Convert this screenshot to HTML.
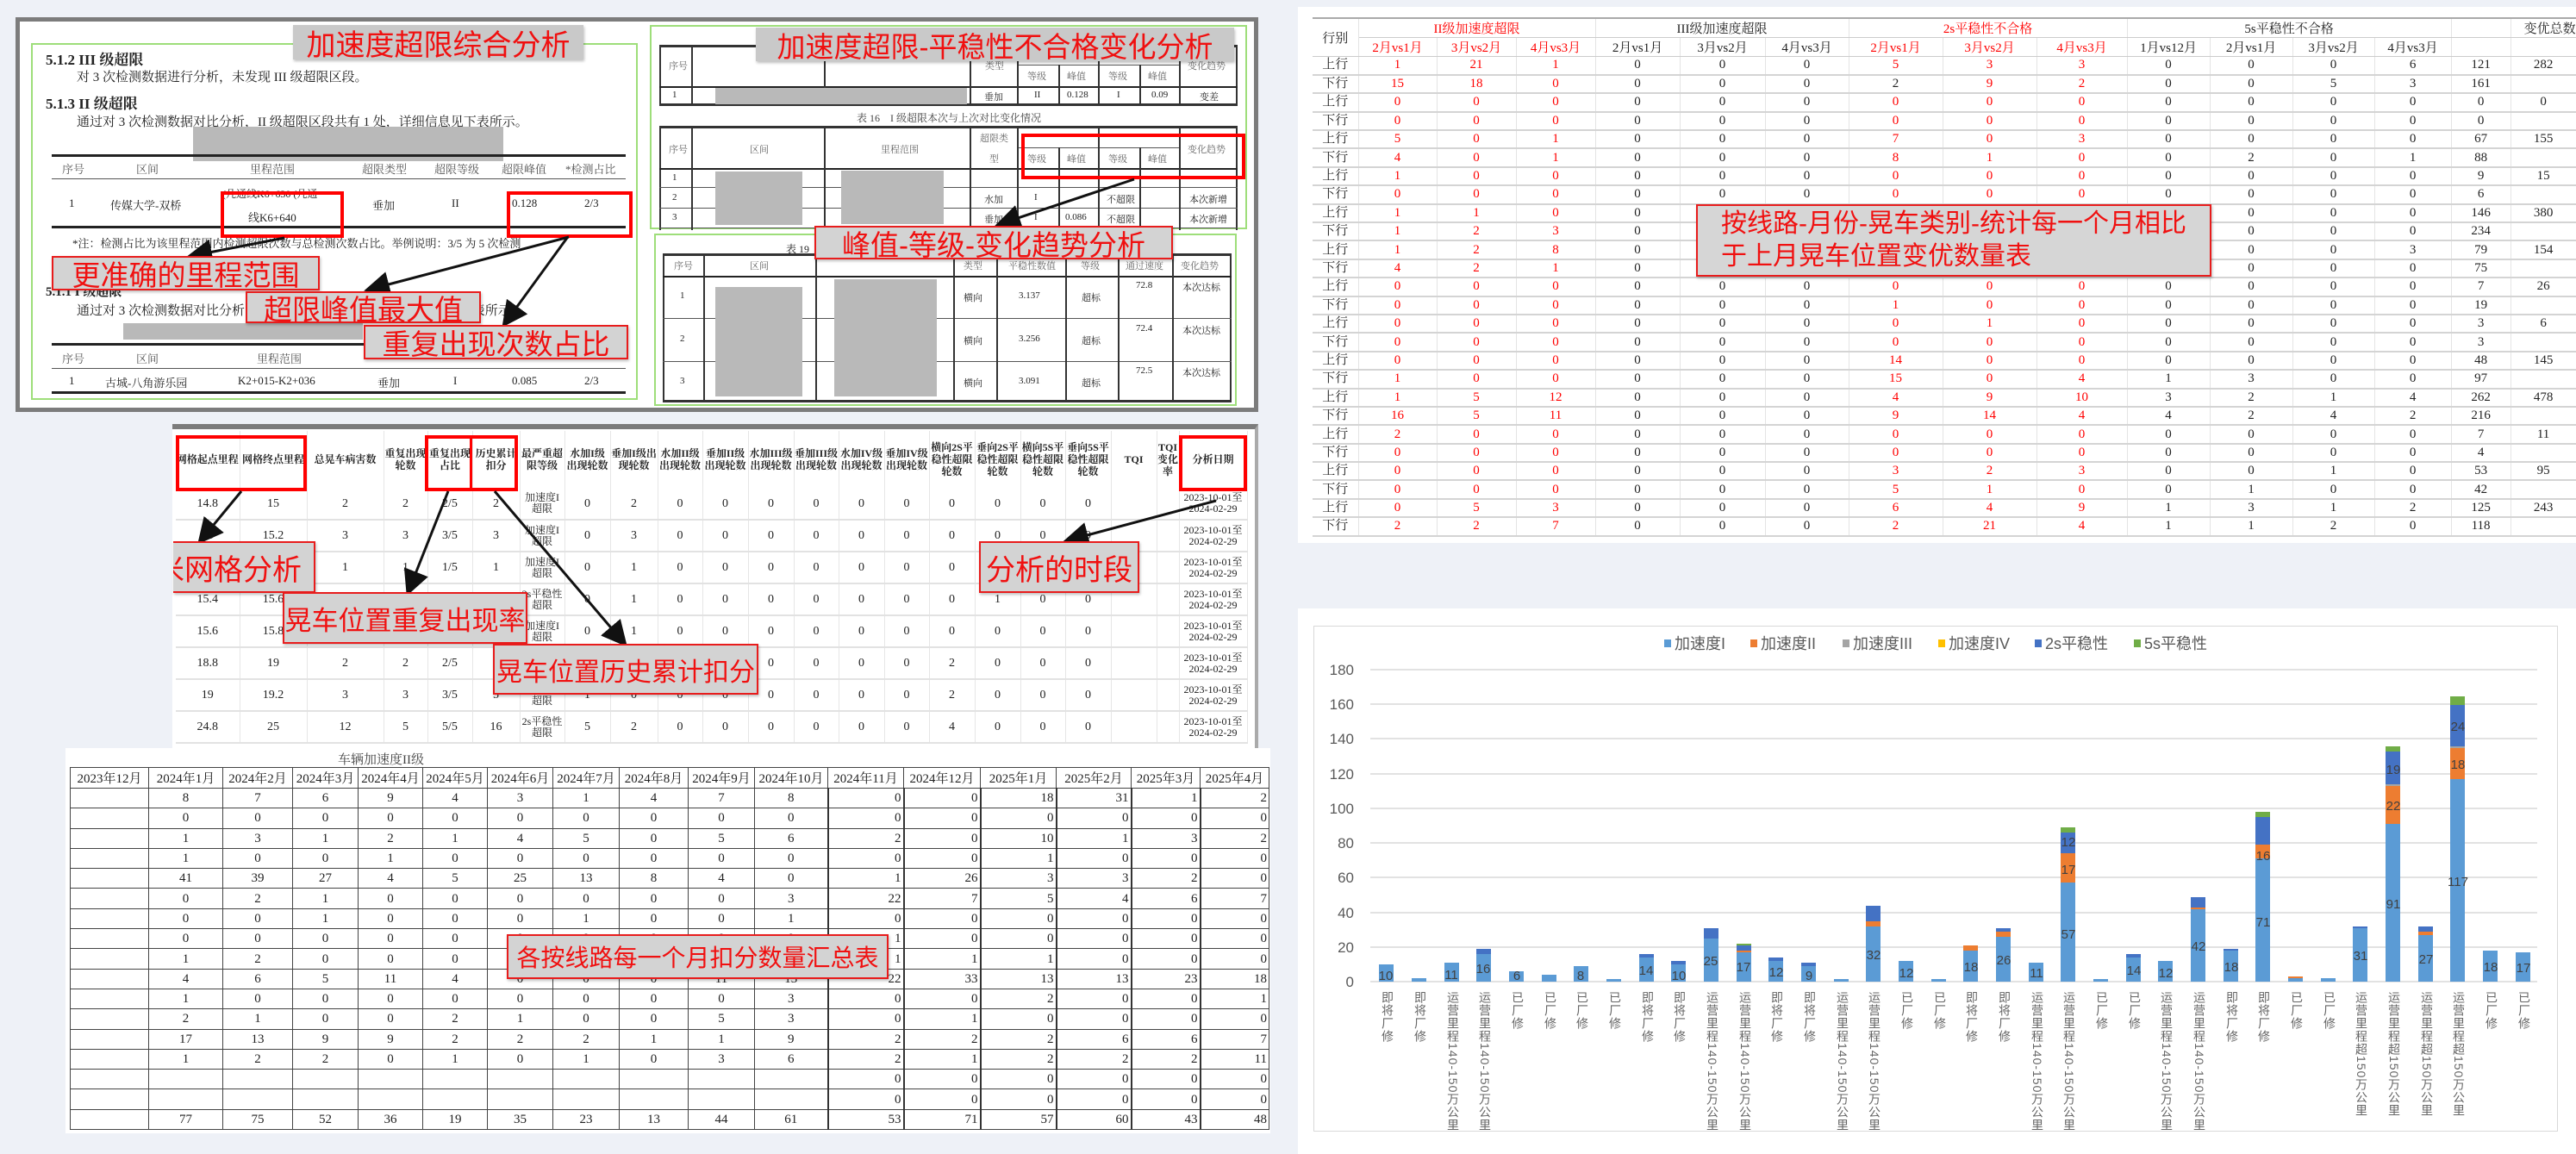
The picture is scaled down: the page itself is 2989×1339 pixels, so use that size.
<!DOCTYPE html>
<html><head><meta charset="utf-8">
<style>
*{margin:0;padding:0;box-sizing:border-box}
body{width:2989px;height:1339px;background:#eef1f7;position:relative;overflow:hidden;font-family:"Liberation Serif","Noto Serif CJK SC",serif;color:#222}
.a{position:absolute}
.co{position:absolute;background:#d3d3d3;border:2px solid #e81c1c;color:#f01010;font-family:"Liberation Sans","Noto Sans CJK SC",sans-serif;white-space:nowrap;display:flex;align-items:center;justify-content:center;box-shadow:1px 2px 3px rgba(0,0,0,.25)}
.rb{position:absolute;border:4px solid #f00}
.t{position:absolute;font-size:14px;white-space:nowrap}
.g{position:absolute;background:#b9b9b9}
.hl{position:absolute;height:2px;background:#222}
.vl{position:absolute;width:1.5px;background:#333}
table{border-collapse:collapse;position:absolute;table-layout:fixed}
.rt td{height:21.4px;border-bottom:2px solid #d4d4d4;border-right:1px solid #e4e4e4;text-align:center;font-size:15px;padding:0;line-height:19px}
.rt td.r{color:#f00}
.rt th{font-weight:normal;font-size:15px;border-right:1px solid #e4e4e4;border-bottom:1px solid #ccc}
.mt td{height:23.3px;border:1px solid #444;border-top:none;text-align:center;font-size:15px;padding:0 2px;line-height:20px}
.mt td.q{text-align:right;border-left:2px solid #333}
.mt th{font-weight:normal;font-size:15px;border:1px solid #444;height:24px}
.gt td{height:37px;max-height:37px;border-bottom:2px solid #e2e2e2;border-right:1px solid #e6e6e6;text-align:center;font-size:14px;padding:0;line-height:13px;overflow:hidden}
.gt td.s{font-size:12px}
.gt th{font-size:12px;border-right:1px solid #e6e6e6;height:66px;line-height:14px;font-weight:bold;padding:0;overflow:hidden}
.lab{position:absolute;writing-mode:vertical-rl;font-size:14px;color:#666;font-family:"Liberation Sans","Noto Sans CJK SC",sans-serif;letter-spacing:1px;top:1150px}
</style></head><body>

<!-- LEFT TOP DOCUMENT PANEL -->
<div class="a" style="left:18px;top:20px;width:1442px;height:458px;background:#fff;border:5px solid #7c7c7c"></div>
<div class="a" style="left:36px;top:50px;width:704px;height:414px;border:2px solid #9ede7a"></div>
<div class="a" style="left:754px;top:29px;width:693px;height:237px;border:2px solid #9ede7a"></div>
<div class="a" style="left:759px;top:271px;width:676px;height:200px;border:2px solid #9ede7a"></div>

<div class="t" style="left:53px;top:55px;font-size:17px;font-weight:bold">5.1.2 III 级超限</div>
<div class="t" style="left:89px;top:78px;font-size:15px">对 3 次检测数据进行分析，未发现 III 级超限区段。</div>
<div class="t" style="left:53px;top:106px;font-size:17px;font-weight:bold">5.1.3 II 级超限</div>
<div class="t" style="left:89px;top:130px;font-size:15px">通过对 3 次检测数据对比分析，II 级超限区段共有 1 处，详细信息见下表所示。</div>
<div class="g" style="left:224px;top:147px;width:360px;height:40px"></div>
<div class="hl" style="left:60px;top:179px;width:666px;height:3px"></div>
<div class="t" style="left:72px;top:186px;font-size:13px;color:#555">序号</div>
<div class="t" style="left:158px;top:186px;font-size:13px;color:#555">区间</div>
<div class="t" style="left:290px;top:186px;font-size:13px;color:#555">里程范围</div>
<div class="t" style="left:420px;top:186px;font-size:13px;color:#555">超限类型</div>
<div class="t" style="left:504px;top:186px;font-size:13px;color:#555">超限等级</div>
<div class="t" style="left:582px;top:186px;font-size:13px;color:#555">超限峰值</div>
<div class="t" style="left:656px;top:186px;font-size:13px;color:#555">*检测占比</div>
<div class="hl" style="left:60px;top:207px;width:666px;height:1px;background:#555"></div>
<div class="t" style="left:80px;top:228px;font-size:13px">1</div>
<div class="t" style="left:128px;top:228px;font-size:13px">传媒大学-双桥</div>
<div class="t" style="left:258px;top:216px;font-size:12px">(几通线K6+630 (几通</div>
<div class="t" style="left:288px;top:242px;font-size:13px">线K6+640</div>
<div class="t" style="left:432px;top:228px;font-size:13px">垂加</div>
<div class="t" style="left:524px;top:228px;font-size:13px">II</div>
<div class="t" style="left:594px;top:228px;font-size:13px">0.128</div>
<div class="t" style="left:678px;top:228px;font-size:13px">2/3</div>
<div class="hl" style="left:60px;top:262px;width:666px;height:3px"></div>
<div class="t" style="left:84px;top:272px;font-size:13px">*注：检测占比为该里程范围内检测超限次数与总检测次数占比。举例说明：3/5 为 5 次检测</div>
<div class="t" style="left:53px;top:327px;font-size:15px;font-weight:bold">5.1.1 I 级超限</div>
<div class="t" style="left:89px;top:349px;font-size:15px">通过对 3 次检测数据对比分析，I 级超限区段共有 1 处，详细信息见下表所示。</div>
<div class="g" style="left:143px;top:375px;width:278px;height:19px"></div>
<div class="hl" style="left:60px;top:398px;width:666px;height:3px"></div>
<div class="t" style="left:72px;top:406px;font-size:13px;color:#555">序号</div>
<div class="t" style="left:158px;top:406px;font-size:13px;color:#555">区间</div>
<div class="t" style="left:298px;top:406px;font-size:13px;color:#555">里程范围</div>
<div class="hl" style="left:60px;top:427px;width:666px;height:1px;background:#555"></div>
<div class="t" style="left:80px;top:434px;font-size:13px">1</div>
<div class="t" style="left:122px;top:434px;font-size:13px">古城-八角游乐园</div>
<div class="t" style="left:276px;top:434px;font-size:13px">K2+015-K2+036</div>
<div class="t" style="left:438px;top:434px;font-size:13px">垂加</div>
<div class="t" style="left:526px;top:434px;font-size:13px">I</div>
<div class="t" style="left:594px;top:434px;font-size:13px">0.085</div>
<div class="t" style="left:678px;top:434px;font-size:13px">2/3</div>
<div class="hl" style="left:60px;top:454px;width:666px;height:3px"></div>

<!-- right doc tables -->
<div class="a" style="left:765px;top:52px;width:671px;height:71px;border:2px solid #333;border-top-width:3px;border-bottom-width:3px"></div>
<div class="hl" style="left:765px;top:100px;width:671px;height:1.5px"></div>
<div class="hl" style="left:1180px;top:75px;width:188px;height:1px;background:#555"></div>
<div class="vl" style="left:802px;top:52px;height:71px"></div><div class="vl" style="left:956px;top:52px;height:71px"></div><div class="vl" style="left:1125px;top:52px;height:71px"></div><div class="vl" style="left:1180px;top:52px;height:71px"></div><div class="vl" style="left:1228px;top:75px;height:48px"></div><div class="vl" style="left:1274px;top:52px;height:71px"></div><div class="vl" style="left:1322px;top:75px;height:48px"></div><div class="vl" style="left:1368px;top:52px;height:71px"></div>
<div class="g" style="left:830px;top:102px;width:292px;height:19px"></div>
<div class="t" style="left:776px;top:68px;font-size:11px;color:#666">序号</div>
<div class="t" style="left:1143px;top:68px;font-size:11px;color:#666">类型</div>
<div class="t" style="left:1378px;top:68px;font-size:11px;color:#666">变化趋势</div>
<div class="t" style="left:1192px;top:80px;font-size:11px;color:#666">等级</div><div class="t" style="left:1238px;top:80px;font-size:11px;color:#666">峰值</div><div class="t" style="left:1286px;top:80px;font-size:11px;color:#666">等级</div><div class="t" style="left:1332px;top:80px;font-size:11px;color:#666">峰值</div>
<div class="t" style="left:780px;top:104px;font-size:11px">1</div><div class="t" style="left:1142px;top:104px;font-size:11px">垂加</div><div class="t" style="left:1200px;top:104px;font-size:11px">II</div><div class="t" style="left:1238px;top:104px;font-size:11px">0.128</div><div class="t" style="left:1296px;top:104px;font-size:11px">I</div><div class="t" style="left:1336px;top:104px;font-size:11px">0.09</div><div class="t" style="left:1392px;top:104px;font-size:11px">变差</div>
<div class="t" style="left:994px;top:128px;font-size:12px;color:#444">表 16　I 级超限本次与上次对比变化情况</div>

<div class="a" style="left:765px;top:146px;width:671px;height:121px;border:2px solid #333;border-top-width:3px;border-bottom:none"></div>
<div class="hl" style="left:765px;top:195px;width:671px;height:1.5px"></div>
<div class="hl" style="left:765px;top:217px;width:671px;height:1px;background:#555"></div>
<div class="hl" style="left:765px;top:241px;width:671px;height:1px;background:#555"></div>
<div class="hl" style="left:765px;top:264px;width:671px;height:1px;background:#555"></div>
<div class="hl" style="left:1180px;top:171px;width:188px;height:1px;background:#555"></div>
<div class="vl" style="left:802px;top:146px;height:121px"></div><div class="vl" style="left:956px;top:146px;height:121px"></div><div class="vl" style="left:1125px;top:146px;height:121px"></div><div class="vl" style="left:1180px;top:146px;height:121px"></div><div class="vl" style="left:1228px;top:171px;height:96px"></div><div class="vl" style="left:1274px;top:146px;height:121px"></div><div class="vl" style="left:1322px;top:171px;height:96px"></div><div class="vl" style="left:1368px;top:146px;height:121px"></div>
<div class="g" style="left:830px;top:199px;width:101px;height:62px"></div>
<div class="g" style="left:976px;top:198px;width:119px;height:62px"></div>
<div class="t" style="left:776px;top:165px;font-size:11px;color:#666">序号</div><div class="t" style="left:870px;top:165px;font-size:11px;color:#666">区间</div><div class="t" style="left:1022px;top:165px;font-size:11px;color:#666">里程范围</div><div class="t" style="left:1137px;top:152px;font-size:11px;color:#666">超限类</div><div class="t" style="left:1148px;top:176px;font-size:11px;color:#666">型</div><div class="t" style="left:1378px;top:165px;font-size:11px;color:#666">变化趋势</div>
<div class="t" style="left:1192px;top:176px;font-size:11px;color:#666">等级</div><div class="t" style="left:1238px;top:176px;font-size:11px;color:#666">峰值</div><div class="t" style="left:1286px;top:176px;font-size:11px;color:#666">等级</div><div class="t" style="left:1332px;top:176px;font-size:11px;color:#666">峰值</div>
<div class="t" style="left:780px;top:200px;font-size:11px">1</div><div class="t" style="left:780px;top:223px;font-size:11px">2</div><div class="t" style="left:780px;top:246px;font-size:11px">3</div>
<div class="t" style="left:1142px;top:223px;font-size:11px">水加</div><div class="t" style="left:1142px;top:246px;font-size:11px">垂加</div><div class="t" style="left:1200px;top:223px;font-size:11px">I</div><div class="t" style="left:1200px;top:246px;font-size:11px">I</div><div class="t" style="left:1236px;top:246px;font-size:11px">0.086</div><div class="t" style="left:1284px;top:223px;font-size:11px">不超限</div><div class="t" style="left:1284px;top:246px;font-size:11px">不超限</div><div class="t" style="left:1380px;top:223px;font-size:11px">本次新增</div><div class="t" style="left:1380px;top:246px;font-size:11px">本次新增</div>

<div class="a" style="left:769px;top:294px;width:660px;height:173px;border:2px solid #333;border-top-width:3px;border-bottom-width:3px"></div>
<div class="hl" style="left:769px;top:320px;width:660px;height:1.5px"></div>
<div class="hl" style="left:769px;top:369px;width:660px;height:1px;background:#555"></div>
<div class="hl" style="left:769px;top:419px;width:660px;height:1px;background:#555"></div>
<div class="vl" style="left:816px;top:294px;height:173px"></div><div class="vl" style="left:946px;top:294px;height:173px"></div><div class="vl" style="left:1106px;top:294px;height:173px"></div><div class="vl" style="left:1156px;top:294px;height:173px"></div><div class="vl" style="left:1236px;top:294px;height:173px"></div><div class="vl" style="left:1297px;top:294px;height:173px"></div><div class="vl" style="left:1360px;top:294px;height:173px"></div>
<div class="g" style="left:830px;top:333px;width:101px;height:127px"></div>
<div class="g" style="left:968px;top:324px;width:119px;height:136px"></div>
<div class="t" style="left:782px;top:300px;font-size:11px;color:#666">序号</div><div class="t" style="left:870px;top:300px;font-size:11px;color:#666">区间</div><div class="t" style="left:1118px;top:300px;font-size:11px;color:#666">类型</div><div class="t" style="left:1170px;top:300px;font-size:11px;color:#666">平稳性数值</div><div class="t" style="left:1254px;top:300px;font-size:11px;color:#666">等级</div><div class="t" style="left:1306px;top:300px;font-size:11px;color:#666">通过速度</div><div class="t" style="left:1370px;top:300px;font-size:11px;color:#666">变化趋势</div>
<div class="t" style="left:789px;top:337px;font-size:11px">1</div><div class="t" style="left:789px;top:387px;font-size:11px">2</div><div class="t" style="left:789px;top:436px;font-size:11px">3</div>
<div class="t" style="left:1118px;top:337px;font-size:11px">横向</div><div class="t" style="left:1118px;top:387px;font-size:11px">横向</div><div class="t" style="left:1118px;top:436px;font-size:11px">横向</div>
<div class="t" style="left:1182px;top:337px;font-size:11px">3.137</div><div class="t" style="left:1182px;top:387px;font-size:11px">3.256</div><div class="t" style="left:1182px;top:436px;font-size:11px">3.091</div>
<div class="t" style="left:1255px;top:337px;font-size:11px">超标</div><div class="t" style="left:1255px;top:387px;font-size:11px">超标</div><div class="t" style="left:1255px;top:436px;font-size:11px">超标</div>
<div class="t" style="left:1318px;top:325px;font-size:11px">72.8</div><div class="t" style="left:1318px;top:375px;font-size:11px">72.4</div><div class="t" style="left:1318px;top:424px;font-size:11px">72.5</div>
<div class="t" style="left:1372px;top:325px;font-size:11px">本次达标</div><div class="t" style="left:1372px;top:375px;font-size:11px">本次达标</div><div class="t" style="left:1372px;top:424px;font-size:11px">本次达标</div>
<div class="t" style="left:912px;top:280px;font-size:12px">表 19</div>

<!-- GRID PANEL -->
<div class="a" style="left:200px;top:492px;width:1260px;height:378px;background:#fff;border-top:6px solid #7c7c7c;border-right:4px solid #aaa;overflow:hidden">
<table class="gt" style="left:4px;top:2px;width:1243px">
<colgroup><col style="width:74px"><col style="width:78px"><col style="width:89px"><col style="width:51px"><col style="width:52px"><col style="width:55px"><col style="width:52px"><col style="width:53px"><col style="width:55px"><col style="width:52px"><col style="width:53px"><col style="width:53px"><col style="width:52px"><col style="width:53px"><col style="width:52px"><col style="width:53px"><col style="width:53px"><col style="width:52px"><col style="width:53px"><col style="width:53px"><col style="width:26px"><col style="width:79px"></colgroup>
<tr><th>网格起点里程</th><th>网格终点里程</th><th>总晃车病害数</th><th>重复出现轮数</th><th>重复出现占比</th><th>历史累计扣分</th><th>最严重超限等级</th><th>水加I级出现轮数</th><th>垂加I级出现轮数</th><th>水加II级出现轮数</th><th>垂加II级出现轮数</th><th>水加III级出现轮数</th><th>垂加III级出现轮数</th><th>水加IV级出现轮数</th><th>垂加IV级出现轮数</th><th>横向2S平稳性超限轮数</th><th>垂向2S平稳性超限轮数</th><th>横向5S平稳性超限轮数</th><th>垂向5S平稳性超限轮数</th><th>TQI</th><th>TQI变化率</th><th>分析日期</th></tr>
<tr><td>14.8</td><td>15</td><td>2</td><td>2</td><td>2/5</td><td>2</td><td class="s">加速度I<br>超限</td><td>0</td><td>2</td><td>0</td><td>0</td><td>0</td><td>0</td><td>0</td><td>0</td><td>0</td><td>0</td><td>0</td><td>0</td><td></td><td></td><td class="s">2023-10-01至<br>2024-02-29</td></tr>
<tr><td>15</td><td>15.2</td><td>3</td><td>3</td><td>3/5</td><td>3</td><td class="s">加速度I<br>超限</td><td>0</td><td>3</td><td>0</td><td>0</td><td>0</td><td>0</td><td>0</td><td>0</td><td>0</td><td>0</td><td>0</td><td>0</td><td></td><td></td><td class="s">2023-10-01至<br>2024-02-29</td></tr>
<tr><td>15.2</td><td>15.4</td><td>1</td><td>1</td><td>1/5</td><td>1</td><td class="s">加速度I<br>超限</td><td>0</td><td>1</td><td>0</td><td>0</td><td>0</td><td>0</td><td>0</td><td>0</td><td>0</td><td>0</td><td>0</td><td>0</td><td></td><td></td><td class="s">2023-10-01至<br>2024-02-29</td></tr>
<tr><td>15.4</td><td>15.6</td><td>1</td><td>1</td><td>1/5</td><td>1</td><td class="s">2s平稳性<br>超限</td><td>0</td><td>1</td><td>0</td><td>0</td><td>0</td><td>0</td><td>0</td><td>0</td><td>0</td><td>1</td><td>0</td><td>0</td><td></td><td></td><td class="s">2023-10-01至<br>2024-02-29</td></tr>
<tr><td>15.6</td><td>15.8</td><td>1</td><td>1</td><td>1/5</td><td>1</td><td class="s">加速度I<br>超限</td><td>0</td><td>1</td><td>0</td><td>0</td><td>0</td><td>0</td><td>0</td><td>0</td><td>0</td><td>0</td><td>0</td><td>0</td><td></td><td></td><td class="s">2023-10-01至<br>2024-02-29</td></tr>
<tr><td>18.8</td><td>19</td><td>2</td><td>2</td><td>2/5</td><td>2</td><td class="s">2s平稳性<br>超限</td><td>0</td><td>0</td><td>0</td><td>0</td><td>0</td><td>0</td><td>0</td><td>0</td><td>2</td><td>0</td><td>0</td><td>0</td><td></td><td></td><td class="s">2023-10-01至<br>2024-02-29</td></tr>
<tr><td>19</td><td>19.2</td><td>3</td><td>3</td><td>3/5</td><td>5</td><td class="s">2s平稳性<br>超限</td><td>1</td><td>0</td><td>0</td><td>0</td><td>0</td><td>0</td><td>0</td><td>0</td><td>2</td><td>0</td><td>0</td><td>0</td><td></td><td></td><td class="s">2023-10-01至<br>2024-02-29</td></tr>
<tr><td>24.8</td><td>25</td><td>12</td><td>5</td><td>5/5</td><td>16</td><td class="s">2s平稳性<br>超限</td><td>5</td><td>2</td><td>0</td><td>0</td><td>0</td><td>0</td><td>0</td><td>0</td><td>4</td><td>0</td><td>0</td><td>0</td><td></td><td></td><td class="s">2023-10-01至<br>2024-02-29</td></tr>
</table>
</div>

<!-- MONTHLY TABLE -->
<div class="a" style="left:76px;top:868px;width:1398px;height:447px;background:#fff"></div>
<div class="t" style="left:392px;top:870px;font-size:15px;color:#444">车辆加速度II级</div>
<table class="mt" style="left:81px;top:890px;width:1391px">
<colgroup><col style="width:91px"><col style="width:86px"><col style="width:81px"><col style="width:76px"><col style="width:75px"><col style="width:75px"><col style="width:76px"><col style="width:77px"><col style="width:80px"><col style="width:77px"><col style="width:85px"><col style="width:88px"><col style="width:89px"><col style="width:88px"><col style="width:87px"><col style="width:80px"><col style="width:80px"></colgroup>
<tr><th>2023年12月</th><th>2024年1月</th><th>2024年2月</th><th>2024年3月</th><th>2024年4月</th><th>2024年5月</th><th>2024年6月</th><th>2024年7月</th><th>2024年8月</th><th>2024年9月</th><th>2024年10月</th><th>2024年11月</th><th>2024年12月</th><th>2025年1月</th><th>2025年2月</th><th>2025年3月</th><th>2025年4月</th></tr>
<tr><td></td><td>8</td><td>7</td><td>6</td><td>9</td><td>4</td><td>3</td><td>1</td><td>4</td><td>7</td><td>8</td><td class="q">0</td><td class="q">0</td><td class="q">18</td><td class="q">31</td><td class="q">1</td><td class="q">2</td></tr>
<tr><td></td><td>0</td><td>0</td><td>0</td><td>0</td><td>0</td><td>0</td><td>0</td><td>0</td><td>0</td><td>0</td><td class="q">0</td><td class="q">0</td><td class="q">0</td><td class="q">0</td><td class="q">0</td><td class="q">0</td></tr>
<tr><td></td><td>1</td><td>3</td><td>1</td><td>2</td><td>1</td><td>4</td><td>5</td><td>0</td><td>5</td><td>6</td><td class="q">2</td><td class="q">0</td><td class="q">10</td><td class="q">1</td><td class="q">3</td><td class="q">2</td></tr>
<tr><td></td><td>1</td><td>0</td><td>0</td><td>1</td><td>0</td><td>0</td><td>0</td><td>0</td><td>0</td><td>0</td><td class="q">0</td><td class="q">0</td><td class="q">1</td><td class="q">0</td><td class="q">0</td><td class="q">0</td></tr>
<tr><td></td><td>41</td><td>39</td><td>27</td><td>4</td><td>5</td><td>25</td><td>13</td><td>8</td><td>4</td><td>0</td><td class="q">1</td><td class="q">26</td><td class="q">3</td><td class="q">3</td><td class="q">2</td><td class="q">0</td></tr>
<tr><td></td><td>0</td><td>2</td><td>1</td><td>0</td><td>0</td><td>0</td><td>0</td><td>0</td><td>0</td><td>3</td><td class="q">22</td><td class="q">7</td><td class="q">5</td><td class="q">4</td><td class="q">6</td><td class="q">7</td></tr>
<tr><td></td><td>0</td><td>0</td><td>1</td><td>0</td><td>0</td><td>0</td><td>1</td><td>0</td><td>0</td><td>1</td><td class="q">0</td><td class="q">0</td><td class="q">0</td><td class="q">0</td><td class="q">0</td><td class="q">0</td></tr>
<tr><td></td><td>0</td><td>0</td><td>0</td><td>0</td><td>0</td><td>0</td><td>0</td><td>0</td><td>0</td><td>0</td><td class="q">1</td><td class="q">0</td><td class="q">0</td><td class="q">0</td><td class="q">0</td><td class="q">0</td></tr>
<tr><td></td><td>1</td><td>2</td><td>0</td><td>0</td><td>0</td><td>0</td><td>0</td><td>0</td><td>0</td><td>0</td><td class="q">1</td><td class="q">1</td><td class="q">1</td><td class="q">0</td><td class="q">0</td><td class="q">0</td></tr>
<tr><td></td><td>4</td><td>6</td><td>5</td><td>11</td><td>4</td><td>0</td><td>0</td><td>0</td><td>11</td><td>13</td><td class="q">22</td><td class="q">33</td><td class="q">13</td><td class="q">13</td><td class="q">23</td><td class="q">18</td></tr>
<tr><td></td><td>1</td><td>0</td><td>0</td><td>0</td><td>0</td><td>0</td><td>0</td><td>0</td><td>0</td><td>3</td><td class="q">0</td><td class="q">0</td><td class="q">2</td><td class="q">0</td><td class="q">0</td><td class="q">1</td></tr>
<tr><td></td><td>2</td><td>1</td><td>0</td><td>0</td><td>2</td><td>1</td><td>0</td><td>0</td><td>5</td><td>3</td><td class="q">0</td><td class="q">1</td><td class="q">0</td><td class="q">0</td><td class="q">0</td><td class="q">0</td></tr>
<tr><td></td><td>17</td><td>13</td><td>9</td><td>9</td><td>2</td><td>2</td><td>2</td><td>1</td><td>1</td><td>9</td><td class="q">2</td><td class="q">2</td><td class="q">2</td><td class="q">6</td><td class="q">6</td><td class="q">7</td></tr>
<tr><td></td><td>1</td><td>2</td><td>2</td><td>0</td><td>1</td><td>0</td><td>1</td><td>0</td><td>3</td><td>6</td><td class="q">2</td><td class="q">1</td><td class="q">2</td><td class="q">2</td><td class="q">2</td><td class="q">11</td></tr>
<tr><td></td><td></td><td></td><td></td><td></td><td></td><td></td><td></td><td></td><td></td><td></td><td class="q">0</td><td class="q">0</td><td class="q">0</td><td class="q">0</td><td class="q">0</td><td class="q">0</td></tr>
<tr><td></td><td></td><td></td><td></td><td></td><td></td><td></td><td></td><td></td><td></td><td></td><td class="q">0</td><td class="q">0</td><td class="q">0</td><td class="q">0</td><td class="q">0</td><td class="q">0</td></tr>
<tr><td></td><td>77</td><td>75</td><td>52</td><td>36</td><td>19</td><td>35</td><td>23</td><td>13</td><td>44</td><td>61</td><td class="q">53</td><td class="q">71</td><td class="q">57</td><td class="q">60</td><td class="q">43</td><td class="q">48</td></tr>
</table>

<!-- RIGHT TABLE -->
<div class="a" style="left:1506px;top:8px;width:1483px;height:622px;background:#fff"></div>
<table class="rt" style="left:1523px;top:20px;width:1466px;border-top:2px solid #aaa">
<colgroup><col style="width:53px"><col style="width:91px"><col style="width:92px"><col style="width:92px"><col style="width:98px"><col style="width:99px"><col style="width:97px"><col style="width:109px"><col style="width:109px"><col style="width:105px"><col style="width:96px"><col style="width:96px"><col style="width:95px"><col style="width:89px"><col style="width:69px"><col style="width:76px"></colgroup>
<tr style="height:22px"><th rowspan="2">行别</th><th colspan="3" style="color:#f00">II级加速度超限</th><th colspan="3">III级加速度超限</th><th colspan="3" style="color:#f00">2s平稳性不合格</th><th colspan="4">5s平稳性不合格</th><th></th><th style="text-align:right">变优总数</th></tr>
<tr style="height:21px"><th style="color:#f00">2月vs1月</th><th style="color:#f00">3月vs2月</th><th style="color:#f00">4月vs3月</th><th>2月vs1月</th><th>3月vs2月</th><th>4月vs3月</th><th style="color:#f00">2月vs1月</th><th style="color:#f00">3月vs2月</th><th style="color:#f00">4月vs3月</th><th>1月vs12月</th><th>2月vs1月</th><th>3月vs2月</th><th>4月vs3月</th><th></th><th></th></tr>
<tr><td>上行</td><td class="r">1</td><td class="r">21</td><td class="r">1</td><td>0</td><td>0</td><td>0</td><td class="r">5</td><td class="r">3</td><td class="r">3</td><td>0</td><td>0</td><td>0</td><td>6</td><td>121</td><td>282</td></tr>
<tr><td>下行</td><td class="r">15</td><td class="r">18</td><td class="r">0</td><td>0</td><td>0</td><td>0</td><td>2</td><td class="r">9</td><td class="r">2</td><td>0</td><td>0</td><td>5</td><td>3</td><td>161</td><td></td></tr>
<tr><td>上行</td><td class="r">0</td><td class="r">0</td><td class="r">0</td><td>0</td><td>0</td><td>0</td><td class="r">0</td><td class="r">0</td><td class="r">0</td><td>0</td><td>0</td><td>0</td><td>0</td><td>0</td><td>0</td></tr>
<tr><td>下行</td><td class="r">0</td><td class="r">0</td><td class="r">0</td><td>0</td><td>0</td><td>0</td><td class="r">0</td><td class="r">0</td><td class="r">0</td><td>0</td><td>0</td><td>0</td><td>0</td><td>0</td><td></td></tr>
<tr><td>上行</td><td class="r">5</td><td class="r">0</td><td class="r">1</td><td>0</td><td>0</td><td>0</td><td class="r">7</td><td class="r">0</td><td class="r">3</td><td>0</td><td>0</td><td>0</td><td>0</td><td>67</td><td>155</td></tr>
<tr><td>下行</td><td class="r">4</td><td class="r">0</td><td class="r">1</td><td>0</td><td>0</td><td>0</td><td class="r">8</td><td class="r">1</td><td class="r">0</td><td>0</td><td>2</td><td>0</td><td>1</td><td>88</td><td></td></tr>
<tr><td>上行</td><td class="r">1</td><td class="r">0</td><td class="r">0</td><td>0</td><td>0</td><td>0</td><td class="r">0</td><td class="r">0</td><td class="r">0</td><td>0</td><td>0</td><td>0</td><td>0</td><td>9</td><td>15</td></tr>
<tr><td>下行</td><td class="r">0</td><td class="r">0</td><td class="r">0</td><td>0</td><td>0</td><td>0</td><td class="r">0</td><td class="r">0</td><td class="r">0</td><td>0</td><td>0</td><td>0</td><td>0</td><td>6</td><td></td></tr>
<tr><td>上行</td><td class="r">1</td><td class="r">1</td><td class="r">0</td><td>0</td><td>0</td><td>0</td><td class="r">0</td><td class="r">0</td><td class="r">0</td><td>0</td><td>0</td><td>0</td><td>0</td><td>146</td><td>380</td></tr>
<tr><td>下行</td><td class="r">1</td><td class="r">2</td><td class="r">3</td><td>0</td><td>0</td><td>0</td><td class="r">0</td><td class="r">0</td><td class="r">0</td><td>0</td><td>0</td><td>0</td><td>0</td><td>234</td><td></td></tr>
<tr><td>上行</td><td class="r">1</td><td class="r">2</td><td class="r">8</td><td>0</td><td>0</td><td>0</td><td class="r">0</td><td class="r">0</td><td class="r">0</td><td>0</td><td>0</td><td>0</td><td>3</td><td>79</td><td>154</td></tr>
<tr><td>下行</td><td class="r">4</td><td class="r">2</td><td class="r">1</td><td>0</td><td>0</td><td>0</td><td class="r">0</td><td class="r">0</td><td class="r">0</td><td>0</td><td>0</td><td>0</td><td>0</td><td>75</td><td></td></tr>
<tr><td>上行</td><td class="r">0</td><td class="r">0</td><td class="r">0</td><td>0</td><td>0</td><td>0</td><td class="r">0</td><td class="r">0</td><td class="r">0</td><td>0</td><td>0</td><td>0</td><td>0</td><td>7</td><td>26</td></tr>
<tr><td>下行</td><td class="r">0</td><td class="r">0</td><td class="r">0</td><td>0</td><td>0</td><td>0</td><td class="r">1</td><td class="r">0</td><td class="r">0</td><td>0</td><td>0</td><td>0</td><td>0</td><td>19</td><td></td></tr>
<tr><td>上行</td><td class="r">0</td><td class="r">0</td><td class="r">0</td><td>0</td><td>0</td><td>0</td><td class="r">0</td><td class="r">1</td><td class="r">0</td><td>0</td><td>0</td><td>0</td><td>0</td><td>3</td><td>6</td></tr>
<tr><td>下行</td><td class="r">0</td><td class="r">0</td><td class="r">0</td><td>0</td><td>0</td><td>0</td><td class="r">0</td><td class="r">0</td><td class="r">0</td><td>0</td><td>0</td><td>0</td><td>0</td><td>3</td><td></td></tr>
<tr><td>上行</td><td class="r">0</td><td class="r">0</td><td class="r">0</td><td>0</td><td>0</td><td>0</td><td class="r">14</td><td class="r">0</td><td class="r">0</td><td>0</td><td>0</td><td>0</td><td>0</td><td>48</td><td>145</td></tr>
<tr><td>下行</td><td class="r">1</td><td class="r">0</td><td class="r">0</td><td>0</td><td>0</td><td>0</td><td class="r">15</td><td class="r">0</td><td class="r">4</td><td>1</td><td>3</td><td>0</td><td>0</td><td>97</td><td></td></tr>
<tr><td>上行</td><td class="r">1</td><td class="r">5</td><td class="r">12</td><td>0</td><td>0</td><td>0</td><td class="r">4</td><td class="r">9</td><td class="r">10</td><td>3</td><td>2</td><td>1</td><td>4</td><td>262</td><td>478</td></tr>
<tr><td>下行</td><td class="r">16</td><td class="r">5</td><td class="r">11</td><td>0</td><td>0</td><td>0</td><td class="r">9</td><td class="r">14</td><td class="r">4</td><td>4</td><td>2</td><td>4</td><td>2</td><td>216</td><td></td></tr>
<tr><td>上行</td><td class="r">2</td><td class="r">0</td><td class="r">0</td><td>0</td><td>0</td><td>0</td><td class="r">0</td><td class="r">0</td><td class="r">0</td><td>0</td><td>0</td><td>0</td><td>0</td><td>7</td><td>11</td></tr>
<tr><td>下行</td><td class="r">0</td><td class="r">0</td><td class="r">0</td><td>0</td><td>0</td><td>0</td><td class="r">0</td><td class="r">0</td><td class="r">0</td><td>0</td><td>0</td><td>0</td><td>0</td><td>4</td><td></td></tr>
<tr><td>上行</td><td class="r">0</td><td class="r">0</td><td class="r">0</td><td>0</td><td>0</td><td>0</td><td class="r">3</td><td class="r">2</td><td class="r">3</td><td>0</td><td>0</td><td>1</td><td>0</td><td>53</td><td>95</td></tr>
<tr><td>下行</td><td class="r">0</td><td class="r">0</td><td class="r">0</td><td>0</td><td>0</td><td>0</td><td class="r">5</td><td class="r">1</td><td class="r">0</td><td>0</td><td>1</td><td>0</td><td>0</td><td>42</td><td></td></tr>
<tr><td>上行</td><td class="r">0</td><td class="r">5</td><td class="r">3</td><td>0</td><td>0</td><td>0</td><td class="r">6</td><td class="r">4</td><td class="r">9</td><td>1</td><td>3</td><td>1</td><td>2</td><td>125</td><td>243</td></tr>
<tr><td>下行</td><td class="r">2</td><td class="r">2</td><td class="r">7</td><td>0</td><td>0</td><td>0</td><td class="r">2</td><td class="r">21</td><td class="r">4</td><td>1</td><td>1</td><td>2</td><td>0</td><td>118</td><td></td></tr>
</table>

<!-- CHART -->
<div class="a" style="left:1506px;top:706px;width:1483px;height:633px;background:#fff"></div>
<div class="a" style="left:1524px;top:726px;width:1444px;height:587px;border:1px solid #d9d9d9"></div>
<svg class="a" style="left:0;top:0" width="2989" height="1339" font-family="Liberation Sans, Noto Sans CJK SC, sans-serif">
<g stroke="#d9d9d9" stroke-width="1.5">
<line x1="1590" y1="777" x2="2944" y2="777"/><line x1="1590" y1="817" x2="2944" y2="817"/><line x1="1590" y1="857" x2="2944" y2="857"/><line x1="1590" y1="898" x2="2944" y2="898"/><line x1="1590" y1="938" x2="2944" y2="938"/><line x1="1590" y1="978" x2="2944" y2="978"/><line x1="1590" y1="1018" x2="2944" y2="1018"/><line x1="1590" y1="1059" x2="2944" y2="1059"/><line x1="1590" y1="1099" x2="2944" y2="1099"/><line x1="1590" y1="1139" x2="2944" y2="1139"/>
</g>
<g font-size="17" fill="#595959" text-anchor="end">
<text x="1571" y="783">180</text><text x="1571" y="823">160</text><text x="1571" y="863">140</text><text x="1571" y="904">120</text><text x="1571" y="944">100</text><text x="1571" y="984">80</text><text x="1571" y="1024">60</text><text x="1571" y="1065">40</text><text x="1571" y="1105">20</text><text x="1571" y="1145">0</text>
</g>
<g font-size="18" fill="#595959">
<rect x="1931" y="742" width="8" height="9" fill="#5b9bd5"/><text x="1943" y="753">加速度I</text>
<rect x="2031" y="742" width="8" height="9" fill="#ed7d31"/><text x="2043" y="753">加速度II</text>
<rect x="2138" y="742" width="8" height="9" fill="#a5a5a5"/><text x="2150" y="753">加速度III</text>
<rect x="2249" y="742" width="8" height="9" fill="#ffc000"/><text x="2261" y="753">加速度IV</text>
<rect x="2361" y="742" width="8" height="9" fill="#4472c4"/><text x="2373" y="753">2s平稳性</text>
<rect x="2476" y="742" width="8" height="9" fill="#70ad47"/><text x="2488" y="753">5s平稳性</text>
</g>
<g>
<rect x="1600" y="1119" width="17" height="20" fill="#5b9bd5"/>
<rect x="1638" y="1135" width="17" height="4" fill="#5b9bd5"/>
<rect x="1676" y="1117" width="17" height="22" fill="#5b9bd5"/>
<rect x="1713" y="1107" width="17" height="32" fill="#5b9bd5"/><rect x="1713" y="1101" width="17" height="6" fill="#4472c4"/>
<rect x="1751" y="1127" width="17" height="12" fill="#5b9bd5"/>
<rect x="1789" y="1131" width="17" height="8" fill="#5b9bd5"/>
<rect x="1826" y="1121" width="17" height="18" fill="#5b9bd5"/>
<rect x="1864" y="1136" width="17" height="3" fill="#5b9bd5"/>
<rect x="1902" y="1111" width="17" height="28" fill="#5b9bd5"/><rect x="1902" y="1107" width="17" height="4" fill="#4472c4"/>
<rect x="1939" y="1119" width="17" height="20" fill="#5b9bd5"/><rect x="1939" y="1115" width="17" height="4" fill="#4472c4"/>
<rect x="1977" y="1089" width="17" height="50" fill="#5b9bd5"/><rect x="1977" y="1077" width="17" height="12" fill="#4472c4"/>
<rect x="2015" y="1105" width="17" height="34" fill="#5b9bd5"/><rect x="2015" y="1103" width="17" height="2" fill="#ed7d31"/><rect x="2015" y="1097" width="17" height="6" fill="#4472c4"/><rect x="2015" y="1095" width="17" height="2" fill="#70ad47"/>
<rect x="2052" y="1115" width="17" height="24" fill="#5b9bd5"/><rect x="2052" y="1111" width="17" height="4" fill="#4472c4"/>
<rect x="2090" y="1121" width="17" height="18" fill="#5b9bd5"/><rect x="2090" y="1117" width="17" height="4" fill="#4472c4"/>
<rect x="2128" y="1136" width="17" height="3" fill="#5b9bd5"/>
<rect x="2165" y="1075" width="17" height="64" fill="#5b9bd5"/><rect x="2165" y="1069" width="17" height="6" fill="#ed7d31"/><rect x="2165" y="1051" width="17" height="18" fill="#4472c4"/>
<rect x="2203" y="1115" width="17" height="24" fill="#5b9bd5"/>
<rect x="2241" y="1136" width="17" height="3" fill="#5b9bd5"/>
<rect x="2278" y="1103" width="17" height="36" fill="#5b9bd5"/><rect x="2278" y="1097" width="17" height="6" fill="#ed7d31"/>
<rect x="2316" y="1087" width="17" height="52" fill="#5b9bd5"/><rect x="2316" y="1081" width="17" height="6" fill="#ed7d31"/><rect x="2316" y="1077" width="17" height="4" fill="#4472c4"/>
<rect x="2354" y="1117" width="17" height="22" fill="#5b9bd5"/>
<rect x="2391" y="1024" width="17" height="115" fill="#5b9bd5"/><rect x="2391" y="990" width="17" height="34" fill="#ed7d31"/><rect x="2391" y="966" width="17" height="24" fill="#4472c4"/><rect x="2391" y="960" width="17" height="6" fill="#70ad47"/>
<rect x="2429" y="1136" width="17" height="3" fill="#5b9bd5"/>
<rect x="2467" y="1111" width="17" height="28" fill="#5b9bd5"/><rect x="2467" y="1107" width="17" height="4" fill="#4472c4"/>
<rect x="2504" y="1115" width="17" height="24" fill="#5b9bd5"/>
<rect x="2542" y="1055" width="17" height="84" fill="#5b9bd5"/><rect x="2542" y="1053" width="17" height="2" fill="#ed7d31"/><rect x="2542" y="1041" width="17" height="12" fill="#4472c4"/>
<rect x="2580" y="1103" width="17" height="36" fill="#5b9bd5"/><rect x="2580" y="1101" width="17" height="2" fill="#4472c4"/>
<rect x="2617" y="996" width="17" height="143" fill="#5b9bd5"/><rect x="2617" y="980" width="17" height="16" fill="#ed7d31"/><rect x="2617" y="948" width="17" height="32" fill="#4472c4"/><rect x="2617" y="942" width="17" height="6" fill="#70ad47"/>
<rect x="2655" y="1135" width="17" height="4" fill="#5b9bd5"/><rect x="2655" y="1133" width="17" height="2" fill="#ed7d31"/>
<rect x="2693" y="1135" width="17" height="4" fill="#5b9bd5"/>
<rect x="2730" y="1077" width="17" height="62" fill="#5b9bd5"/><rect x="2730" y="1075" width="17" height="2" fill="#4472c4"/>
<rect x="2768" y="956" width="17" height="183" fill="#5b9bd5"/><rect x="2768" y="912" width="17" height="44" fill="#ed7d31"/><rect x="2768" y="910" width="17" height="2" fill="#a5a5a5"/><rect x="2768" y="872" width="17" height="38" fill="#4472c4"/><rect x="2768" y="866" width="17" height="6" fill="#70ad47"/>
<rect x="2806" y="1085" width="17" height="54" fill="#5b9bd5"/><rect x="2806" y="1081" width="17" height="4" fill="#ed7d31"/><rect x="2806" y="1075" width="17" height="6" fill="#4472c4"/>
<rect x="2843" y="904" width="17" height="235" fill="#5b9bd5"/><rect x="2843" y="868" width="17" height="36" fill="#ed7d31"/><rect x="2843" y="866" width="17" height="2" fill="#a5a5a5"/><rect x="2843" y="818" width="17" height="48" fill="#4472c4"/><rect x="2843" y="808" width="17" height="10" fill="#70ad47"/>
<rect x="2881" y="1103" width="17" height="36" fill="#5b9bd5"/>
<rect x="2919" y="1105" width="17" height="34" fill="#5b9bd5"/>
</g>
<g font-size="15" fill="#404040" text-anchor="middle">
<text x="1608" y="1137">10</text><text x="1684" y="1136">11</text><text x="1721" y="1129">16</text><text x="1760" y="1137">6</text><text x="1834" y="1137">8</text><text x="1910" y="1131">14</text><text x="1948" y="1137">10</text><text x="1985" y="1120">25</text><text x="2023" y="1127">17</text><text x="2061" y="1133">12</text><text x="2099" y="1137">9</text><text x="2174" y="1113">32</text><text x="2212" y="1134">12</text><text x="2287" y="1127">18</text><text x="2325" y="1119">26</text><text x="2363" y="1134">11</text><text x="2400" y="1089">57</text><text x="2400" y="1014">17</text><text x="2400" y="982">12</text><text x="2476" y="1131">14</text><text x="2513" y="1134">12</text><text x="2551" y="1103">42</text><text x="2589" y="1127">18</text><text x="2626" y="1075">71</text><text x="2626" y="998">16</text><text x="2739" y="1114">31</text><text x="2777" y="1054">91</text><text x="2777" y="940">22</text><text x="2777" y="898">19</text><text x="2815" y="1118">27</text><text x="2852" y="1028">117</text><text x="2852" y="892">18</text><text x="2852" y="848">24</text><text x="2890" y="1127">18</text><text x="2928" y="1128">17</text>
</g>
</svg>
<div class="lab" style="left:1600px">即将厂修</div><div class="lab" style="left:1638px">即将厂修</div><div class="lab" style="left:1676px">运营里程140-150万公里</div><div class="lab" style="left:1713px">运营里程140-150万公里</div><div class="lab" style="left:1751px">已厂修</div><div class="lab" style="left:1789px">已厂修</div><div class="lab" style="left:1826px">已厂修</div><div class="lab" style="left:1864px">已厂修</div><div class="lab" style="left:1902px">即将厂修</div><div class="lab" style="left:1939px">即将厂修</div><div class="lab" style="left:1977px">运营里程140-150万公里</div><div class="lab" style="left:2015px">运营里程140-150万公里</div><div class="lab" style="left:2052px">即将厂修</div><div class="lab" style="left:2090px">即将厂修</div><div class="lab" style="left:2128px">运营里程140-150万公里</div><div class="lab" style="left:2165px">运营里程140-150万公里</div><div class="lab" style="left:2203px">已厂修</div><div class="lab" style="left:2241px">已厂修</div><div class="lab" style="left:2278px">即将厂修</div><div class="lab" style="left:2316px">即将厂修</div><div class="lab" style="left:2354px">运营里程140-150万公里</div><div class="lab" style="left:2391px">运营里程140-150万公里</div><div class="lab" style="left:2429px">已厂修</div><div class="lab" style="left:2467px">已厂修</div><div class="lab" style="left:2504px">运营里程140-150万公里</div><div class="lab" style="left:2542px">运营里程140-150万公里</div><div class="lab" style="left:2580px">即将厂修</div><div class="lab" style="left:2617px">即将厂修</div><div class="lab" style="left:2655px">已厂修</div><div class="lab" style="left:2693px">已厂修</div><div class="lab" style="left:2730px">运营里程超150万公里</div><div class="lab" style="left:2768px">运营里程超150万公里</div><div class="lab" style="left:2806px">运营里程超150万公里</div><div class="lab" style="left:2843px">运营里程超150万公里</div><div class="lab" style="left:2881px">已厂修</div><div class="lab" style="left:2919px">已厂修</div>

<!-- red boxes -->
<div class="rb" style="left:256px;top:222px;width:143px;height:54px"></div>
<div class="rb" style="left:588px;top:222px;width:146px;height:54px"></div>
<div class="rb" style="left:1185px;top:155px;width:260px;height:53px"></div>
<div class="rb" style="left:204px;top:505px;width:152px;height:65px"></div>
<div class="rb" style="left:493px;top:505px;width:108px;height:65px"></div>
<div class="a" style="left:545px;top:505px;width:3px;height:65px;background:#f00"></div>
<div class="rb" style="left:1368px;top:505px;width:79px;height:65px"></div>

<!-- arrows -->
<svg class="a" style="left:0;top:0" width="2989" height="1339">
<defs><marker id="ar" markerWidth="10" markerHeight="10" refX="8" refY="5" orient="auto"><path d="M0,0 L10,5 L0,10 z" fill="#111"/></marker></defs>
<g stroke="#111" stroke-width="3" marker-end="url(#ar)">
<line x1="330" y1="276" x2="222" y2="297"/>
<line x1="660" y1="275" x2="428" y2="336"/>
<line x1="658" y1="276" x2="586" y2="375"/>
<line x1="1316" y1="208" x2="1160" y2="260"/>
<line x1="280" y1="570" x2="233" y2="627"/>
<line x1="520" y1="570" x2="474" y2="686"/>
<line x1="574" y1="570" x2="724" y2="746"/>
<line x1="1411" y1="581" x2="1239" y2="627"/>
</g>
</svg>

<!-- callouts -->
<div class="co" style="left:340px;top:29px;width:337px;height:40px;font-size:34px;border:none;background:#c9c9c9">加速度超限综合分析</div>
<div class="co" style="left:877px;top:32px;width:555px;height:39px;font-size:33px;border:none;background:#c9c9c9">加速度超限-平稳性不合格变化分析</div>
<div class="co" style="left:945px;top:262px;width:416px;height:39px;font-size:33px">峰值-等级-变化趋势分析</div>
<div class="co" style="left:60px;top:297px;width:311px;height:40px;font-size:33px">更准确的里程范围</div>
<div class="co" style="left:285px;top:338px;width:273px;height:37px;font-size:33px">超限峰值最大值</div>
<div class="co" style="left:422px;top:377px;width:307px;height:40px;font-size:33px">重复出现次数占比</div>
<div class="co" style="left:201px;top:628px;width:165px;height:60px;font-size:34px;border-left:none;justify-content:flex-end;padding-right:14px;overflow:hidden">0米网格分析</div>
<div class="co" style="left:1136px;top:628px;width:186px;height:60px;font-size:34px">分析的时段</div>
<div class="co" style="left:328px;top:687px;width:284px;height:60px;font-size:31px">晃车位置重复出现率</div>
<div class="co" style="left:572px;top:747px;width:308px;height:59px;font-size:30px">晃车位置历史累计扣分</div>
<div class="co" style="left:588px;top:1084px;width:443px;height:52px;font-size:28px">各按线路每一个月扣分数量汇总表</div>
<div class="co" style="left:1968px;top:237px;width:598px;height:84px;font-size:30px;flex-direction:column;line-height:38px;background:#d6d6d6">按线路-月份-晃车类别-统计每一个月相比<br>于上月晃车位置变优数量表</div>
</body></html>
